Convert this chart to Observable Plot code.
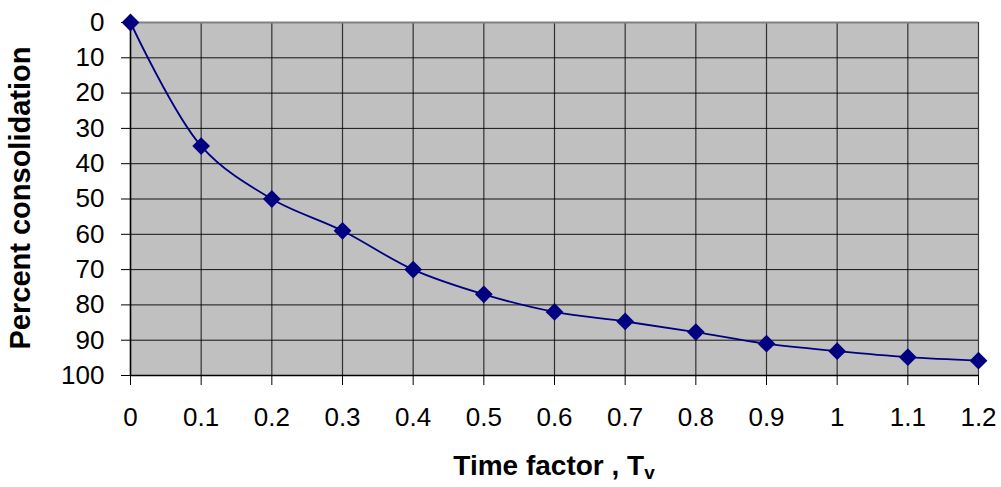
<!DOCTYPE html>
<html>
<head>
<meta charset="utf-8">
<script src="https://cdn.jsdelivr.net/npm/d3@7"></script>
<script src="https://cdn.jsdelivr.net/npm/@observablehq/plot@0.6"></script>
<style>
  html, body { margin: 0; padding: 0; background: #fff; }
  svg { display: block; }
</style>
</head>
<body>
<div id="chart"></div>
<script>
const timeFactor = [0, 0.1, 0.2, 0.3, 0.4, 0.5, 0.6, 0.7, 0.8, 0.9, 1.0, 1.1, 1.2];
const percentConsolidation = [0, 35, 50, 59, 70, 77, 82, 84.7, 87.7, 91, 93.1, 94.8, 95.8];
const xTicks = [0, 0.1, 0.2, 0.3, 0.4, 0.5, 0.6, 0.7, 0.8, 0.9, 1, 1.1, 1.2];
const yTicks = [0, 10, 20, 30, 40, 50, 60, 70, 80, 90, 100];

const data = timeFactor.map((t, i) => ({t, u: percentConsolidation[i]}));

const plot = Plot.plot({
  width: 1001,
  height: 487,
  marginLeft: 130,
  marginRight: 23,
  marginTop: 22,
  marginBottom: 112,
  style: {fontFamily: "Liberation Sans, Arial, sans-serif", fontSize: "26px", color: "#000", background: "#fff"},
  x: {domain: [0, 1.2]},
  y: {domain: [0, 100], reverse: true},
  marks: [
    Plot.frame({fill: "#C0C0C0", stroke: "none"}),
    Plot.gridX(xTicks, {stroke: "#000", strokeOpacity: 0.75, strokeWidth: 1.2}),
    Plot.gridY(yTicks, {stroke: "#000", strokeOpacity: 0.9, strokeWidth: 1}),
    Plot.ruleY([0], {stroke: "#808080", strokeWidth: 2}),
    Plot.ruleY([100], {stroke: "#000", strokeWidth: 1.5}),
    Plot.ruleX([0], {stroke: "#000", strokeWidth: 1.5}),
    Plot.axisX(xTicks, {tickSize: 10, tickPadding: 22, label: null, fontSize: 26, tickFormat: d => String(d)}),
    Plot.axisY(yTicks, {tickSize: 9, tickPadding: 17, label: null, fontSize: 26, tickFormat: d => String(d)}),
    Plot.line(data, {x: "t", y: "u", stroke: "#000080", strokeWidth: 1.8, curve: "catmull-rom"}),
    Plot.dot(data, {x: "t", y: "u", symbol: "diamond2", r: 8, fill: "#000080", stroke: "none"})
  ]
});

document.getElementById("chart").appendChild(plot);

const svg = d3.select(plot);
svg.append("text")
  .attr("transform", "translate(22,198) rotate(-90)")
  .attr("text-anchor", "middle")
  .attr("dominant-baseline", "middle")
  .attr("font-family", "Liberation Sans, Arial, sans-serif")
  .attr("font-weight", "bold")
  .attr("font-size", 29)
  .text("Percent consolidation");

const xl = svg.append("text")
  .attr("x", 554)
  .attr("y", 475)
  .attr("text-anchor", "middle")
  .attr("font-family", "Liberation Sans, Arial, sans-serif")
  .attr("font-weight", "bold")
  .attr("font-size", 28);
xl.append("tspan").text("Time factor , T");
xl.append("tspan").attr("font-size", 19).attr("dy", 4).text("v");
</script>
</body>
</html>
